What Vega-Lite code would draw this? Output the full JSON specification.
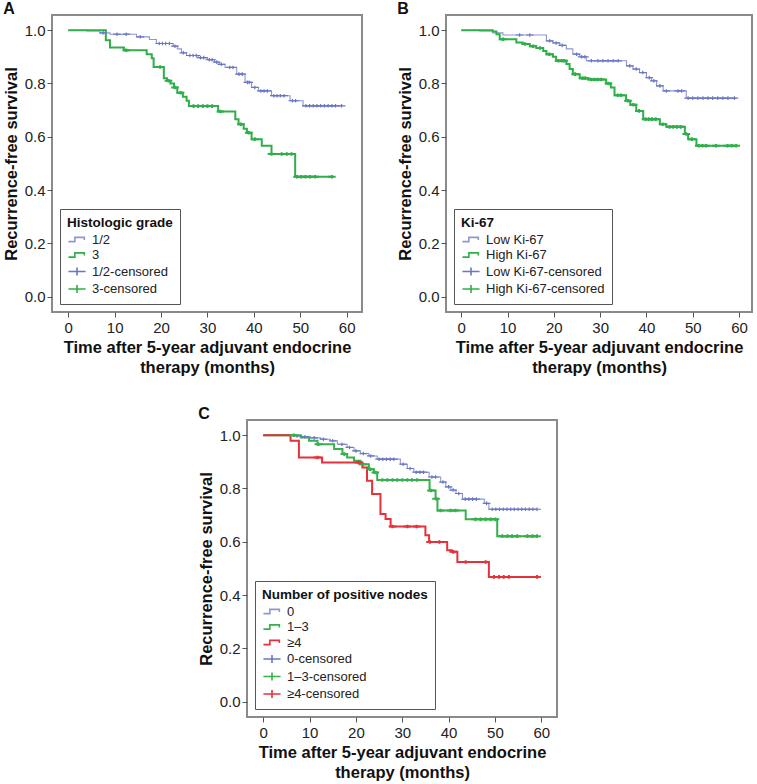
{
 "$schema": "https://vega.github.io/schema/vega-lite/v6.json",
 "padding": {"left": 2, "top": 0, "right": 0, "bottom": 0},
 "background": "white",
 "config": {
  "font": "Liberation Sans",
  "view": {"stroke": "#8a8a8a", "strokeWidth": 2},
  "title": {"fontSize": 16, "fontWeight": "bold", "anchor": "start", "frame": "bounds", "offset": -2, "color": "#111"},
  "axis": {"grid": false, "domain": false, "labelFontSize": 15, "labelColor": "#222", "tickColor": "#555", "tickSize": 5, "labelPadding": 2, "titleFontSize": 16.5, "titleFontWeight": "bold", "titleColor": "#111"},
  "axisX": {"titleLineHeight": 20, "titlePadding": 4, "labelPadding": 3},
  "axisY": {"titlePadding": 5},
  "legend": {"orient": "bottom-left", "direction": "vertical", "offset": 8, "strokeColor": "#555", "fillColor": "white", "padding": 7, "titleFontSize": 13.5, "titleFontWeight": "bold", "titleColor": "#111", "titlePadding": 3, "labelFontSize": 13, "labelColor": "#222", "symbolSize": 150, "symbolStrokeWidth": 1.6, "rowPadding": 1.5, "labelOffset": 8, "symbolOffset": 3}
 },
 "datasets": {
  "A_line": [
   {"k":"1/2","t":0,"s":1},{"k":"1/2","t":4,"s":0.997},{"k":"1/2","t":6.8,"s":0.99},{"k":"1/2","t":9,"s":0.985},{"k":"1/2","t":14.7,"s":0.975},{"k":"1/2","t":17.5,"s":0.965},{"k":"1/2","t":19,"s":0.95},{"k":"1/2","t":22.6,"s":0.94},{"k":"1/2","t":23.5,"s":0.93},{"k":"1/2","t":24.4,"s":0.915},{"k":"1/2","t":25.5,"s":0.905},{"k":"1/2","t":28,"s":0.897},{"k":"1/2","t":30,"s":0.889},{"k":"1/2","t":31.5,"s":0.88},{"k":"1/2","t":32.5,"s":0.872},{"k":"1/2","t":33.8,"s":0.86},{"k":"1/2","t":36.3,"s":0.835},{"k":"1/2","t":38.1,"s":0.804},{"k":"1/2","t":39.5,"s":0.785},{"k":"1/2","t":41,"s":0.772},{"k":"1/2","t":43.8,"s":0.754},{"k":"1/2","t":47.8,"s":0.735},{"k":"1/2","t":50.6,"s":0.716},{"k":"1/2","t":58.9,"s":0.716},
   {"k":"3","t":0,"s":1},{"k":"3","t":8.1,"s":0.962},{"k":"3","t":9,"s":0.935},{"k":"3","t":12,"s":0.925},{"k":"3","t":16.9,"s":0.91},{"k":"3","t":18,"s":0.895},{"k":"3","t":18.4,"s":0.862},{"k":"3","t":20.6,"s":0.82},{"k":"3","t":21.3,"s":0.81},{"k":"3","t":22,"s":0.8},{"k":"3","t":22.8,"s":0.785},{"k":"3","t":23.5,"s":0.765},{"k":"3","t":24.7,"s":0.75},{"k":"3","t":25.5,"s":0.735},{"k":"3","t":26,"s":0.715},{"k":"3","t":32.3,"s":0.695},{"k":"3","t":36,"s":0.666},{"k":"3","t":36.7,"s":0.647},{"k":"3","t":37.8,"s":0.63},{"k":"3","t":38.5,"s":0.615},{"k":"3","t":39.5,"s":0.591},{"k":"3","t":41.7,"s":0.566},{"k":"3","t":43.8,"s":0.535},{"k":"3","t":48.9,"s":0.45},{"k":"3","t":56.8,"s":0.45}
  ],
  "A_cens": [
   {"k":"1/2-censored","t":7.5,"s":0.99},{"k":"1/2-censored","t":10.5,"s":0.985},{"k":"1/2-censored","t":12.5,"s":0.985},{"k":"1/2-censored","t":15.5,"s":0.975},{"k":"1/2-censored","t":19.6,"s":0.95},{"k":"1/2-censored","t":20.3,"s":0.95},{"k":"1/2-censored","t":21,"s":0.95},{"k":"1/2-censored","t":21.8,"s":0.95},{"k":"1/2-censored","t":23,"s":0.94},{"k":"1/2-censored","t":24.8,"s":0.915},{"k":"1/2-censored","t":26.2,"s":0.905},{"k":"1/2-censored","t":26.9,"s":0.905},{"k":"1/2-censored","t":27.6,"s":0.905},{"k":"1/2-censored","t":28.5,"s":0.897},{"k":"1/2-censored","t":29.2,"s":0.897},{"k":"1/2-censored","t":30.4,"s":0.889},{"k":"1/2-censored","t":31,"s":0.889},{"k":"1/2-censored","t":32,"s":0.88},{"k":"1/2-censored","t":33,"s":0.872},{"k":"1/2-censored","t":34.8,"s":0.86},{"k":"1/2-censored","t":35.5,"s":0.86},{"k":"1/2-censored","t":36.8,"s":0.835},{"k":"1/2-censored","t":37.5,"s":0.835},{"k":"1/2-censored","t":38.6,"s":0.804},{"k":"1/2-censored","t":39,"s":0.804},{"k":"1/2-censored","t":40.2,"s":0.785},{"k":"1/2-censored","t":41.5,"s":0.772},{"k":"1/2-censored","t":42.2,"s":0.772},{"k":"1/2-censored","t":42.9,"s":0.772},{"k":"1/2-censored","t":44.3,"s":0.754},{"k":"1/2-censored","t":45,"s":0.754},{"k":"1/2-censored","t":45.7,"s":0.754},{"k":"1/2-censored","t":46.5,"s":0.754},{"k":"1/2-censored","t":48.3,"s":0.735},{"k":"1/2-censored","t":49,"s":0.735},{"k":"1/2-censored","t":51.2,"s":0.716},{"k":"1/2-censored","t":52,"s":0.716},{"k":"1/2-censored","t":52.8,"s":0.716},{"k":"1/2-censored","t":53.6,"s":0.716},{"k":"1/2-censored","t":54.4,"s":0.716},{"k":"1/2-censored","t":55.2,"s":0.716},{"k":"1/2-censored","t":56,"s":0.716},{"k":"1/2-censored","t":56.8,"s":0.716},{"k":"1/2-censored","t":57.6,"s":0.716},{"k":"1/2-censored","t":58.9,"s":0.716},
   {"k":"3-censored","t":12.5,"s":0.925},{"k":"3-censored","t":19.8,"s":0.862},{"k":"3-censored","t":21.6,"s":0.81},{"k":"3-censored","t":23,"s":0.785},{"k":"3-censored","t":24.2,"s":0.765},{"k":"3-censored","t":27,"s":0.715},{"k":"3-censored","t":28,"s":0.715},{"k":"3-censored","t":29,"s":0.715},{"k":"3-censored","t":30,"s":0.715},{"k":"3-censored","t":31,"s":0.715},{"k":"3-censored","t":32.8,"s":0.695},{"k":"3-censored","t":37.2,"s":0.647},{"k":"3-censored","t":38.9,"s":0.615},{"k":"3-censored","t":40.2,"s":0.591},{"k":"3-censored","t":43.8,"s":0.535},{"k":"3-censored","t":46,"s":0.535},{"k":"3-censored","t":47.1,"s":0.535},{"k":"3-censored","t":48.1,"s":0.535},{"k":"3-censored","t":49.3,"s":0.45},{"k":"3-censored","t":50.2,"s":0.45},{"k":"3-censored","t":51.1,"s":0.45},{"k":"3-censored","t":52.1,"s":0.45},{"k":"3-censored","t":53.2,"s":0.45},{"k":"3-censored","t":56.8,"s":0.45}
  ],
  "B_line": [
   {"k":"Low Ki-67","t":0,"s":1},{"k":"Low Ki-67","t":4,"s":0.997},{"k":"Low Ki-67","t":6.8,"s":0.99},{"k":"Low Ki-67","t":9,"s":0.982},{"k":"Low Ki-67","t":18.4,"s":0.96},{"k":"Low Ki-67","t":19.8,"s":0.952},{"k":"Low Ki-67","t":21.3,"s":0.943},{"k":"Low Ki-67","t":22.7,"s":0.93},{"k":"Low Ki-67","t":24.1,"s":0.91},{"k":"Low Ki-67","t":25.6,"s":0.9},{"k":"Low Ki-67","t":27,"s":0.885},{"k":"Low Ki-67","t":35.7,"s":0.866},{"k":"Low Ki-67","t":37.1,"s":0.854},{"k":"Low Ki-67","t":38.5,"s":0.841},{"k":"Low Ki-67","t":40,"s":0.822},{"k":"Low Ki-67","t":41.1,"s":0.81},{"k":"Low Ki-67","t":42.2,"s":0.791},{"k":"Low Ki-67","t":43.6,"s":0.772},{"k":"Low Ki-67","t":48.6,"s":0.745},{"k":"Low Ki-67","t":59.4,"s":0.745},
   {"k":"High Ki-67","t":0,"s":1},{"k":"High Ki-67","t":6.8,"s":0.995},{"k":"High Ki-67","t":7.6,"s":0.985},{"k":"High Ki-67","t":8.3,"s":0.966},{"k":"High Ki-67","t":11.9,"s":0.954},{"k":"High Ki-67","t":13.3,"s":0.948},{"k":"High Ki-67","t":14.8,"s":0.94},{"k":"High Ki-67","t":16.2,"s":0.933},{"k":"High Ki-67","t":17.7,"s":0.922},{"k":"High Ki-67","t":18.4,"s":0.91},{"k":"High Ki-67","t":19.8,"s":0.9},{"k":"High Ki-67","t":20.5,"s":0.885},{"k":"High Ki-67","t":22.7,"s":0.873},{"k":"High Ki-67","t":23.4,"s":0.854},{"k":"High Ki-67","t":24.1,"s":0.835},{"k":"High Ki-67","t":25.6,"s":0.82},{"k":"High Ki-67","t":27.5,"s":0.815},{"k":"High Ki-67","t":31.3,"s":0.8},{"k":"High Ki-67","t":32.3,"s":0.785},{"k":"High Ki-67","t":33.1,"s":0.756},{"k":"High Ki-67","t":35.6,"s":0.735},{"k":"High Ki-67","t":36.5,"s":0.72},{"k":"High Ki-67","t":37.8,"s":0.697},{"k":"High Ki-67","t":39.3,"s":0.666},{"k":"High Ki-67","t":42.9,"s":0.647},{"k":"High Ki-67","t":44.3,"s":0.637},{"k":"High Ki-67","t":48.3,"s":0.61},{"k":"High Ki-67","t":49,"s":0.591},{"k":"High Ki-67","t":50.8,"s":0.566},{"k":"High Ki-67","t":59.4,"s":0.566}
  ],
  "B_cens": [
   {"k":"Low Ki-67-censored","t":12.6,"s":0.982},{"k":"Low Ki-67-censored","t":14.8,"s":0.982},{"k":"Low Ki-67-censored","t":19.1,"s":0.96},{"k":"Low Ki-67-censored","t":20.5,"s":0.952},{"k":"Low Ki-67-censored","t":21.8,"s":0.943},{"k":"Low Ki-67-censored","t":24.9,"s":0.91},{"k":"Low Ki-67-censored","t":26,"s":0.9},{"k":"Low Ki-67-censored","t":26.7,"s":0.9},{"k":"Low Ki-67-censored","t":28.1,"s":0.885},{"k":"Low Ki-67-censored","t":29.5,"s":0.885},{"k":"Low Ki-67-censored","t":30.6,"s":0.885},{"k":"Low Ki-67-censored","t":31.7,"s":0.885},{"k":"Low Ki-67-censored","t":32.8,"s":0.885},{"k":"Low Ki-67-censored","t":33.9,"s":0.885},{"k":"Low Ki-67-censored","t":36.4,"s":0.866},{"k":"Low Ki-67-censored","t":37.8,"s":0.854},{"k":"Low Ki-67-censored","t":39.2,"s":0.841},{"k":"Low Ki-67-censored","t":40.6,"s":0.822},{"k":"Low Ki-67-censored","t":41.6,"s":0.81},{"k":"Low Ki-67-censored","t":42.9,"s":0.791},{"k":"Low Ki-67-censored","t":44.3,"s":0.772},{"k":"Low Ki-67-censored","t":46.8,"s":0.772},{"k":"Low Ki-67-censored","t":47.6,"s":0.772},{"k":"Low Ki-67-censored","t":49,"s":0.745},{"k":"Low Ki-67-censored","t":50,"s":0.745},{"k":"Low Ki-67-censored","t":51.1,"s":0.745},{"k":"Low Ki-67-censored","t":52.2,"s":0.745},{"k":"Low Ki-67-censored","t":53.3,"s":0.745},{"k":"Low Ki-67-censored","t":54.3,"s":0.745},{"k":"Low Ki-67-censored","t":55.4,"s":0.745},{"k":"Low Ki-67-censored","t":56.5,"s":0.745},{"k":"Low Ki-67-censored","t":57.6,"s":0.745},{"k":"Low Ki-67-censored","t":59,"s":0.745},
   {"k":"High Ki-67-censored","t":9,"s":0.966},{"k":"High Ki-67-censored","t":13.8,"s":0.948},{"k":"High Ki-67-censored","t":15.5,"s":0.94},{"k":"High Ki-67-censored","t":17,"s":0.933},{"k":"High Ki-67-censored","t":19,"s":0.91},{"k":"High Ki-67-censored","t":21,"s":0.885},{"k":"High Ki-67-censored","t":21.7,"s":0.885},{"k":"High Ki-67-censored","t":22.2,"s":0.885},{"k":"High Ki-67-censored","t":24.6,"s":0.835},{"k":"High Ki-67-censored","t":26.2,"s":0.82},{"k":"High Ki-67-censored","t":26.8,"s":0.82},{"k":"High Ki-67-censored","t":28,"s":0.815},{"k":"High Ki-67-censored","t":28.7,"s":0.815},{"k":"High Ki-67-censored","t":29.4,"s":0.815},{"k":"High Ki-67-censored","t":30.2,"s":0.815},{"k":"High Ki-67-censored","t":31.8,"s":0.8},{"k":"High Ki-67-censored","t":33.8,"s":0.756},{"k":"High Ki-67-censored","t":34.5,"s":0.756},{"k":"High Ki-67-censored","t":36,"s":0.735},{"k":"High Ki-67-censored","t":37.2,"s":0.72},{"k":"High Ki-67-censored","t":38.4,"s":0.697},{"k":"High Ki-67-censored","t":39.8,"s":0.666},{"k":"High Ki-67-censored","t":40.5,"s":0.666},{"k":"High Ki-67-censored","t":41.2,"s":0.666},{"k":"High Ki-67-censored","t":42,"s":0.666},{"k":"High Ki-67-censored","t":43.5,"s":0.647},{"k":"High Ki-67-censored","t":45,"s":0.637},{"k":"High Ki-67-censored","t":45.8,"s":0.637},{"k":"High Ki-67-censored","t":46.6,"s":0.637},{"k":"High Ki-67-censored","t":47.4,"s":0.637},{"k":"High Ki-67-censored","t":48.6,"s":0.61},{"k":"High Ki-67-censored","t":49.8,"s":0.591},{"k":"High Ki-67-censored","t":51.3,"s":0.566},{"k":"High Ki-67-censored","t":52.1,"s":0.566},{"k":"High Ki-67-censored","t":52.9,"s":0.566},{"k":"High Ki-67-censored","t":55,"s":0.566},{"k":"High Ki-67-censored","t":57.5,"s":0.566},{"k":"High Ki-67-censored","t":58.4,"s":0.566},{"k":"High Ki-67-censored","t":59.4,"s":0.566}
  ],
  "C_line": [
   {"k":"0","t":0,"s":1},{"k":"0","t":7.3,"s":0.997},{"k":"0","t":8.4,"s":0.994},{"k":"0","t":10.2,"s":0.99},{"k":"0","t":12.4,"s":0.985},{"k":"0","t":14.5,"s":0.979},{"k":"0","t":16,"s":0.966},{"k":"0","t":18.1,"s":0.954},{"k":"0","t":19.6,"s":0.941},{"k":"0","t":21,"s":0.931},{"k":"0","t":22.8,"s":0.922},{"k":"0","t":24.6,"s":0.91},{"k":"0","t":29.6,"s":0.891},{"k":"0","t":31.1,"s":0.875},{"k":"0","t":32.5,"s":0.861},{"k":"0","t":35.8,"s":0.843},{"k":"0","t":38.3,"s":0.824},{"k":"0","t":39.4,"s":0.806},{"k":"0","t":40.5,"s":0.794},{"k":"0","t":41.6,"s":0.781},{"k":"0","t":43,"s":0.76},{"k":"0","t":47.7,"s":0.744},{"k":"0","t":48.7,"s":0.722},{"k":"0","t":59.1,"s":0.722},
   {"k":"1–3","t":0,"s":1},{"k":"1–3","t":8.1,"s":0.991},{"k":"1–3","t":9.9,"s":0.979},{"k":"1–3","t":11.7,"s":0.966},{"k":"1–3","t":15.3,"s":0.948},{"k":"1–3","t":17.1,"s":0.929},{"k":"1–3","t":18.1,"s":0.916},{"k":"1–3","t":19.6,"s":0.904},{"k":"1–3","t":21,"s":0.891},{"k":"1–3","t":22.8,"s":0.872},{"k":"1–3","t":23.9,"s":0.86},{"k":"1–3","t":24.6,"s":0.832},{"k":"1–3","t":35.9,"s":0.792},{"k":"1–3","t":37.2,"s":0.761},{"k":"1–3","t":37.6,"s":0.717},{"k":"1–3","t":43.7,"s":0.684},{"k":"1–3","t":50.5,"s":0.621},{"k":"1–3","t":59.1,"s":0.621},
   {"k":"≥4","t":0,"s":1},{"k":"≥4","t":5.9,"s":0.979},{"k":"≥4","t":7.7,"s":0.916},{"k":"≥4","t":12.7,"s":0.897},{"k":"≥4","t":21.4,"s":0.879},{"k":"≥4","t":22.4,"s":0.829},{"k":"≥4","t":23.5,"s":0.779},{"k":"≥4","t":25.3,"s":0.704},{"k":"≥4","t":26.4,"s":0.685},{"k":"≥4","t":27.5,"s":0.657},{"k":"≥4","t":35,"s":0.624},{"k":"≥4","t":35.8,"s":0.599},{"k":"≥4","t":39.7,"s":0.568},{"k":"≥4","t":40.7,"s":0.562},{"k":"≥4","t":41.9,"s":0.524},{"k":"≥4","t":48.7,"s":0.468},{"k":"≥4","t":59.1,"s":0.468}
  ],
  "C_cens": [
   {"k":"0-censored","t":7.3,"s":0.997},{"k":"0-censored","t":9,"s":0.994},{"k":"0-censored","t":11,"s":0.99},{"k":"0-censored","t":13,"s":0.985},{"k":"0-censored","t":15,"s":0.979},{"k":"0-censored","t":17,"s":0.966},{"k":"0-censored","t":18.6,"s":0.954},{"k":"0-censored","t":20,"s":0.941},{"k":"0-censored","t":21.6,"s":0.931},{"k":"0-censored","t":23.2,"s":0.922},{"k":"0-censored","t":25,"s":0.91},{"k":"0-censored","t":25.8,"s":0.91},{"k":"0-censored","t":26.6,"s":0.91},{"k":"0-censored","t":27.4,"s":0.91},{"k":"0-censored","t":28.2,"s":0.91},{"k":"0-censored","t":30.2,"s":0.891},{"k":"0-censored","t":31.7,"s":0.875},{"k":"0-censored","t":33,"s":0.861},{"k":"0-censored","t":33.8,"s":0.861},{"k":"0-censored","t":34.6,"s":0.861},{"k":"0-censored","t":36.4,"s":0.843},{"k":"0-censored","t":37.2,"s":0.843},{"k":"0-censored","t":38.8,"s":0.824},{"k":"0-censored","t":40,"s":0.806},{"k":"0-censored","t":41,"s":0.794},{"k":"0-censored","t":42.2,"s":0.781},{"k":"0-censored","t":43.6,"s":0.76},{"k":"0-censored","t":44.4,"s":0.76},{"k":"0-censored","t":45.2,"s":0.76},{"k":"0-censored","t":46,"s":0.76},{"k":"0-censored","t":48.2,"s":0.744},{"k":"0-censored","t":49.4,"s":0.722},{"k":"0-censored","t":50.2,"s":0.722},{"k":"0-censored","t":51,"s":0.722},{"k":"0-censored","t":51.8,"s":0.722},{"k":"0-censored","t":52.6,"s":0.722},{"k":"0-censored","t":53.4,"s":0.722},{"k":"0-censored","t":54.2,"s":0.722},{"k":"0-censored","t":55,"s":0.722},{"k":"0-censored","t":55.8,"s":0.722},{"k":"0-censored","t":56.6,"s":0.722},{"k":"0-censored","t":57.4,"s":0.722},{"k":"0-censored","t":58.2,"s":0.722},{"k":"0-censored","t":59.1,"s":0.722},
   {"k":"1–3-censored","t":6.6,"s":1},{"k":"1–3-censored","t":11.9,"s":0.966},{"k":"1–3-censored","t":17.5,"s":0.929},{"k":"1–3-censored","t":21.5,"s":0.891},{"k":"1–3-censored","t":23.1,"s":0.872},{"k":"1–3-censored","t":24.2,"s":0.86},{"k":"1–3-censored","t":25.7,"s":0.832},{"k":"1–3-censored","t":26.8,"s":0.832},{"k":"1–3-censored","t":27.9,"s":0.832},{"k":"1–3-censored","t":28.9,"s":0.832},{"k":"1–3-censored","t":30,"s":0.832},{"k":"1–3-censored","t":31.1,"s":0.832},{"k":"1–3-censored","t":32.1,"s":0.832},{"k":"1–3-censored","t":33.2,"s":0.832},{"k":"1–3-censored","t":36.2,"s":0.792},{"k":"1–3-censored","t":37.3,"s":0.761},{"k":"1–3-censored","t":38.3,"s":0.717},{"k":"1–3-censored","t":40.4,"s":0.717},{"k":"1–3-censored","t":41.5,"s":0.717},{"k":"1–3-censored","t":45.8,"s":0.684},{"k":"1–3-censored","t":46.9,"s":0.684},{"k":"1–3-censored","t":48,"s":0.684},{"k":"1–3-censored","t":49.1,"s":0.684},{"k":"1–3-censored","t":50.1,"s":0.684},{"k":"1–3-censored","t":51.6,"s":0.621},{"k":"1–3-censored","t":52.7,"s":0.621},{"k":"1–3-censored","t":53.7,"s":0.621},{"k":"1–3-censored","t":54.8,"s":0.621},{"k":"1–3-censored","t":57,"s":0.621},{"k":"1–3-censored","t":58.1,"s":0.621},{"k":"1–3-censored","t":59.1,"s":0.621},
   {"k":"≥4-censored","t":11.7,"s":0.916},{"k":"≥4-censored","t":20.6,"s":0.897},{"k":"≥4-censored","t":27.9,"s":0.657},{"k":"≥4-censored","t":31.1,"s":0.657},{"k":"≥4-censored","t":33.1,"s":0.657},{"k":"≥4-censored","t":36,"s":0.599},{"k":"≥4-censored","t":38,"s":0.599},{"k":"≥4-censored","t":41,"s":0.562},{"k":"≥4-censored","t":43.7,"s":0.524},{"k":"≥4-censored","t":48,"s":0.524},{"k":"≥4-censored","t":49.8,"s":0.468},{"k":"≥4-censored","t":50.9,"s":0.468},{"k":"≥4-censored","t":51.9,"s":0.468},{"k":"≥4-censored","t":53,"s":0.468},{"k":"≥4-censored","t":59.1,"s":0.468}
  ]
 },
 "vconcat": [
  {
   "hconcat": [
    {
     "width": 310, "height": 297,
     "title": {"text": "A"},
     "layer": [
      {"data": {"name": "A_line"}, "mark": {"type": "line", "interpolate": "step-after"},
       "encoding": {
        "x": {"field": "t", "type": "quantitative", "scale": {"domain": [-3.5, 63.3], "nice": false, "zero": false}, "axis": {"values": [0,10,20,30,40,50,60], "title": ["Time after 5-year adjuvant endocrine", "therapy (months)"]}},
        "y": {"field": "s", "type": "quantitative", "scale": {"domain": [-0.058, 1.057], "nice": false, "zero": false}, "axis": {"values": [0,0.2,0.4,0.6,0.8,1], "format": ".1f", "title": "Recurrence-free survival"}},
        "stroke": {"field": "k", "type": "nominal", "scale": {"domain": ["1/2","3"], "range": ["#8f97d3","#2fae4a"]}, "legend": null},
        "strokeWidth": {"condition": {"test": "datum.k === '1/2'", "value": 1.1}, "value": 2}
       }},
      {"data": {"name": "A_cens"}, "mark": {"type": "point", "filled": false, "size": 30, "opacity": 1},
       "encoding": {
        "x": {"field": "t", "type": "quantitative"},
        "y": {"field": "s", "type": "quantitative"},
        "color": {"field": "k", "type": "nominal", "scale": {"domain": ["1/2","3","1/2-censored","3-censored"], "range": ["#8f97d3","#2fae4a","#6a76c2","#2fae4a"]}, "legend": {"title": "Histologic grade", "symbolSize": 150, "encode": {"symbols": {"update": {"size": {"value": 150}, "strokeWidth": {"value": 1.6}}}}}},
        "shape": {"field": "k", "type": "nominal", "scale": {"domain": ["1/2","3","1/2-censored","3-censored"], "range": ["M-1.4,0.35H-0.35V-0.35H1.2V0.1","M-1.4,0.35H-0.35V-0.35H1.2V0.1","M-1.4,0H1.4M0,-0.65V0.65","M-1.4,0H1.4M0,-0.65V0.65"]}},
        "strokeWidth": {"condition": {"test": "datum.k === '1/2-censored'", "value": 1.2}, "value": 2}
       }}
     ]
    },
    {
     "width": 306, "height": 297,
     "title": {"text": "B"},
     "layer": [
      {"data": {"name": "B_line"}, "mark": {"type": "line", "interpolate": "step-after"},
       "encoding": {
        "x": {"field": "t", "type": "quantitative", "scale": {"domain": [-3.3, 62.8], "nice": false, "zero": false}, "axis": {"values": [0,10,20,30,40,50,60], "title": ["Time after 5-year adjuvant endocrine", "therapy (months)"]}},
        "y": {"field": "s", "type": "quantitative", "scale": {"domain": [-0.058, 1.057], "nice": false, "zero": false}, "axis": {"values": [0,0.2,0.4,0.6,0.8,1], "format": ".1f", "title": "Recurrence-free survival"}},
        "stroke": {"field": "k", "type": "nominal", "scale": {"domain": ["Low Ki-67","High Ki-67"], "range": ["#8f97d3","#2fae4a"]}, "legend": null},
        "strokeWidth": {"condition": {"test": "datum.k === 'Low Ki-67'", "value": 1.1}, "value": 2}
       }},
      {"data": {"name": "B_cens"}, "mark": {"type": "point", "filled": false, "size": 30, "opacity": 1},
       "encoding": {
        "x": {"field": "t", "type": "quantitative"},
        "y": {"field": "s", "type": "quantitative"},
        "color": {"field": "k", "type": "nominal", "scale": {"domain": ["Low Ki-67","High Ki-67","Low Ki-67-censored","High Ki-67-censored"], "range": ["#8f97d3","#2fae4a","#6a76c2","#2fae4a"]}, "legend": {"title": "Ki-67", "symbolSize": 150, "encode": {"symbols": {"update": {"size": {"value": 150}, "strokeWidth": {"value": 1.6}}}}}},
        "shape": {"field": "k", "type": "nominal", "scale": {"domain": ["Low Ki-67","High Ki-67","Low Ki-67-censored","High Ki-67-censored"], "range": ["M-1.4,0.35H-0.35V-0.35H1.2V0.1","M-1.4,0.35H-0.35V-0.35H1.2V0.1","M-1.4,0H1.4M0,-0.65V0.65","M-1.4,0H1.4M0,-0.65V0.65"]}},
        "strokeWidth": {"condition": {"test": "datum.k === 'Low Ki-67-censored'", "value": 1.2}, "value": 2}
       }}
     ]
    }
   ],
   "spacing": 33,
   "resolve": {"scale": {"color": "independent", "shape": "independent", "stroke": "independent", "x": "independent", "y": "independent"}, "legend": {"color": "independent", "shape": "independent"}}
  },
  {
   "width": 310, "height": 297,
   "title": {"text": "C"},
   "layer": [
    {"data": {"name": "C_line"}, "mark": {"type": "line", "interpolate": "step-after"},
     "encoding": {
      "x": {"field": "t", "type": "quantitative", "scale": {"domain": [-3.5, 63.4], "nice": false, "zero": false}, "axis": {"values": [0,10,20,30,40,50,60], "title": ["Time after 5-year adjuvant endocrine", "therapy (months)"]}},
      "y": {"field": "s", "type": "quantitative", "scale": {"domain": [-0.058, 1.057], "nice": false, "zero": false}, "axis": {"values": [0,0.2,0.4,0.6,0.8,1], "format": ".1f", "title": "Recurrence-free survival"}},
      "stroke": {"field": "k", "type": "nominal", "scale": {"domain": ["0","1–3","≥4"], "range": ["#8f97d3","#35b04c","#e5323a"]}, "legend": null},
      "strokeWidth": {"condition": {"test": "datum.k === '0'", "value": 1.1}, "value": 2}
     }},
    {"data": {"name": "C_cens"}, "mark": {"type": "point", "filled": false, "size": 30, "opacity": 1},
     "encoding": {
      "x": {"field": "t", "type": "quantitative"},
      "y": {"field": "s", "type": "quantitative"},
      "color": {"field": "k", "type": "nominal", "scale": {"domain": ["0","1–3","≥4","0-censored","1–3-censored","≥4-censored"], "range": ["#8f97d3","#35b04c","#e5323a","#6a76c2","#35b04c","#e5323a"]}, "legend": {"title": "Number of positive nodes", "symbolSize": 150, "encode": {"symbols": {"update": {"size": {"value": 150}, "strokeWidth": {"value": 1.6}}}}}},
      "shape": {"field": "k", "type": "nominal", "scale": {"domain": ["0","1–3","≥4","0-censored","1–3-censored","≥4-censored"], "range": ["M-1.4,0.35H-0.35V-0.35H1.2V0.1","M-1.4,0.35H-0.35V-0.35H1.2V0.1","M-1.4,0.35H-0.35V-0.35H1.2V0.1","M-1.4,0H1.4M0,-0.65V0.65","M-1.4,0H1.4M0,-0.65V0.65","M-1.4,0H1.4M0,-0.65V0.65"]}},
      "strokeWidth": {"condition": {"test": "datum.k === '0-censored'", "value": 1.2}, "value": 2}
     }}
   ]
  }
 ],
 "spacing": 28,
 "center": true,
 "resolve": {"scale": {"color": "independent", "shape": "independent", "stroke": "independent", "x": "independent", "y": "independent"}, "legend": {"color": "independent", "shape": "independent"}}
}
